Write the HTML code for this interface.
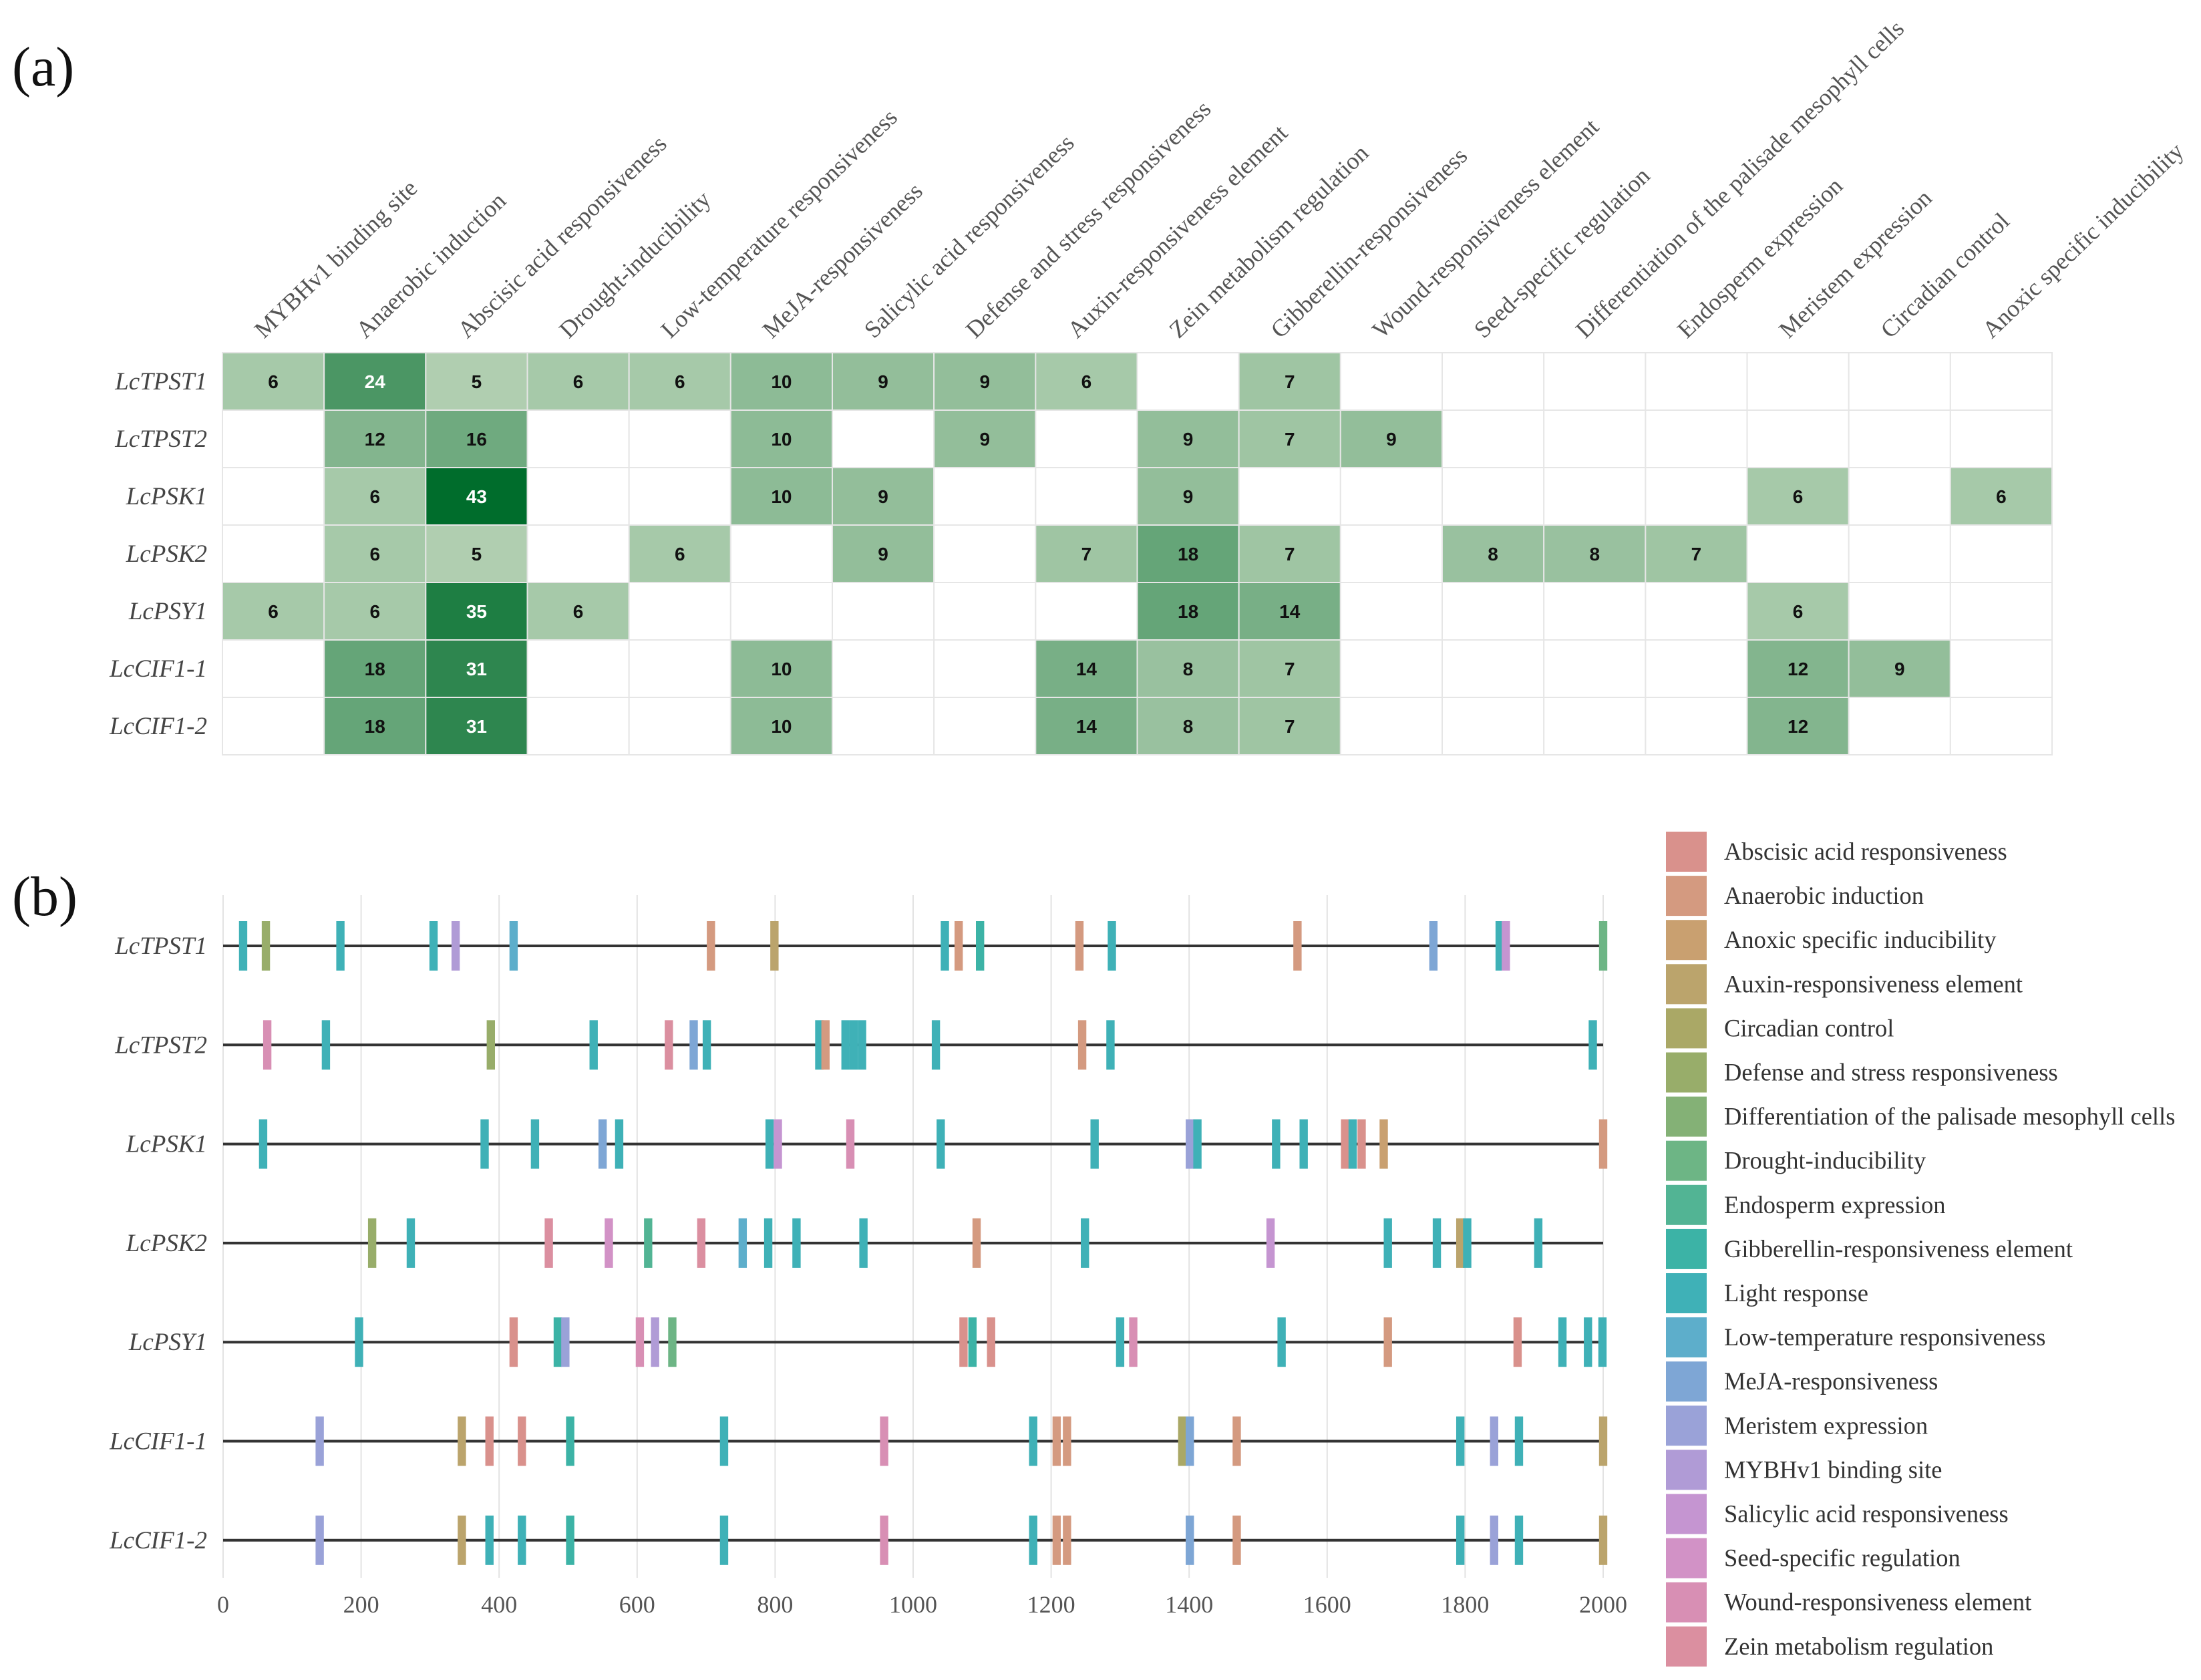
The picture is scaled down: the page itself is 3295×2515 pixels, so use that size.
<!DOCTYPE html>
<html><head><meta charset="utf-8">
<style>
html,body{margin:0;padding:0;background:#fff;}
svg{display:block;}
</style></head>
<body>
<svg id="fig" width="3295" height="2515" viewBox="0 0 3295 2515" xmlns="http://www.w3.org/2000/svg">
<rect width="3295" height="2515" fill="#fff"/>
<text x="18" y="128" font-family="Liberation Serif, serif" font-size="84" fill="#111">(a)</text>
<text x="18" y="1370" font-family="Liberation Serif, serif" font-size="84" fill="#111">(b)</text>
<g id="heat"></g>
<g id="track"></g>
<g id="legend"></g>
</svg>
<script>
// ---------- heatmap data ----------
const genes = ["LcTPST1","LcTPST2","LcPSK1","LcPSK2","LcPSY1","LcCIF1-1","LcCIF1-2"];
const heatCols = ["MYBHv1 binding site","Anaerobic induction","Abscisic acid responsiveness","Drought-inducibility","Low-temperature responsiveness","MeJA-responsiveness","Salicylic acid responsiveness","Defense and stress responsiveness","Auxin-responsiveness element","Zein metabolism regulation","Gibberellin-responsiveness","Wound-responsiveness element","Seed-specific regulation","Differentiation of the palisade mesophyll cells","Endosperm expression","Meristem expression","Circadian control","Anoxic specific inducibility"];
const rowTPST1 = [6,24,5,6,6,10,9,9,6,0,7,0,0,0,0,0,0,0];
const rowTPST2 = [0,12,16,0,0,10,0,9,0,9,7,9,0,0,0,0,0,0];
const rowPSK1  = [0,6,43,0,0,10,9,0,0,9,0,0,0,0,0,6,0,6];
const rowPSK2  = [0,6,5,0,6,0,9,0,7,18,7,0,8,8,7,0,0,0];
const rowPSY1  = [6,6,35,6,0,0,0,0,0,18,14,0,0,0,0,6,0,0];
const rowCIF11 = [0,18,31,0,0,10,0,0,14,8,7,0,0,0,0,12,9,0];
const rowCIF12 = [0,18,31,0,0,10,0,0,14,8,7,0,0,0,0,12,0,0];
const heatRows = [rowTPST1,rowTPST2,rowPSK1,rowPSK2,rowPSY1,rowCIF11,rowCIF12];

// ---------- track data ----------
const categories = ["Abscisic acid responsiveness","Anaerobic induction","Anoxic specific inducibility","Auxin-responsiveness element","Circadian control","Defense and stress responsiveness","Differentiation of the palisade mesophyll cells","Drought-inducibility","Endosperm expression","Gibberellin-responsiveness element","Light response","Low-temperature responsiveness","MeJA-responsiveness","Meristem expression","MYBHv1 binding site","Salicylic acid responsiveness","Seed-specific regulation","Wound-responsiveness element","Zein metabolism regulation"];
const catColors = ["#d9918c","#d49a80","#c9a070","#bba46c","#aaa866","#98ad6a","#84b176","#6db585","#52b494","#3cb3a6","#3fb1b7","#5daecb","#7ea6d5","#9aa2d8","#b09bd6","#c595d1","#d292c6","#d88fb4","#db8fa0"];
const xTicks = [0,200,400,600,800,1000,1200,1400,1600,1800,2000];
const posTPST1 = [29,62,170,305,337,421,707,799,1046,1066,1097,1241,1288,1557,1754,1850,1859,2000];
const catTPST1 = ["Light response","Defense and stress responsiveness","Light response","Light response","MYBHv1 binding site","Low-temperature responsiveness","Anaerobic induction","Auxin-responsiveness element","Light response","Anaerobic induction","Gibberellin-responsiveness element","Anaerobic induction","Light response","Anaerobic induction","MeJA-responsiveness","Light response","Salicylic acid responsiveness","Drought-inducibility"];
const posTPST2 = [64,149,388,537,646,682,701,864,873,902,914,926,1033,1245,1286,1985];
const catTPST2 = ["Wound-responsiveness element","Light response","Defense and stress responsiveness","Light response","Zein metabolism regulation","MeJA-responsiveness","Light response","Light response","Anaerobic induction","Light response","Light response","Light response","Light response","Anaerobic induction","Light response","Light response"];
const posPSK1 = [58,379,452,550,574,792,804,909,1040,1263,1401,1412,1526,1566,1626,1637,1650,1682,2000];
const catPSK1 = ["Light response","Light response","Light response","MeJA-responsiveness","Light response","Light response","Salicylic acid responsiveness","Wound-responsiveness element","Light response","Light response","Meristem expression","Light response","Light response","Light response","Abscisic acid responsiveness","Light response","Abscisic acid responsiveness","Anoxic specific inducibility","Anaerobic induction"];
const posPSK2 = [216,272,472,559,616,693,753,790,831,928,1092,1249,1518,1688,1759,1793,1803,1906];
const catPSK2 = ["Defense and stress responsiveness","Light response","Zein metabolism regulation","Seed-specific regulation","Endosperm expression","Zein metabolism regulation","Low-temperature responsiveness","Light response","Light response","Light response","Anaerobic induction","Light response","Salicylic acid responsiveness","Light response","Light response","Auxin-responsiveness element","Light response","Light response"];
const posPSY1 = [197,421,485,496,604,626,651,1073,1086,1113,1300,1319,1534,1688,1876,1941,1978,1999];
const catPSY1 = ["Light response","Abscisic acid responsiveness","Gibberellin-responsiveness element","Meristem expression","Wound-responsiveness element","MYBHv1 binding site","Drought-inducibility","Abscisic acid responsiveness","Gibberellin-responsiveness element","Abscisic acid responsiveness","Light response","Wound-responsiveness element","Light response","Anaerobic induction","Abscisic acid responsiveness","Light response","Light response","Light response"];
const posCIF11 = [140,346,386,433,503,726,958,1174,1208,1223,1390,1401,1469,1793,1842,1878,2000];
const catCIF11 = ["Meristem expression","Auxin-responsiveness element","Abscisic acid responsiveness","Abscisic acid responsiveness","Gibberellin-responsiveness element","Light response","Wound-responsiveness element","Light response","Anaerobic induction","Anaerobic induction","Circadian control","MeJA-responsiveness","Anaerobic induction","Light response","Meristem expression","Light response","Auxin-responsiveness element"];
const posCIF12 = [140,346,386,433,503,726,958,1174,1208,1223,1401,1469,1793,1842,1878,2000];
const catCIF12 = ["Meristem expression","Auxin-responsiveness element","Light response","Light response","Gibberellin-responsiveness element","Light response","Wound-responsiveness element","Light response","Anaerobic induction","Anaerobic induction","MeJA-responsiveness","Anaerobic induction","Light response","Meristem expression","Light response","Auxin-responsiveness element"];
const trackPos = [posTPST1,posTPST2,posPSK1,posPSK2,posPSY1,posCIF11,posCIF12];
const trackCat = [catTPST1,catTPST2,catPSK1,catPSK2,catPSY1,catCIF11,catCIF12];

const NS = "http://www.w3.org/2000/svg";
function mk(tag, attrs, parent){const e=document.createElementNS(NS,tag);for(const k in attrs)e.setAttribute(k,attrs[k]);parent.appendChild(e);return e;}

// ---------- heatmap ----------
const heat = document.getElementById('heat');
const hx0=333, hy0=528, cw=(3072-333)/heatCols.length, ch=(1130-528)/genes.length;
const vmin=5, vmax=43;
function lerp(a,b,t){return Math.round(a+(b-a)*t);}
function heatColor(v){
  let t=Math.max(0,Math.min(1,(v-vmin)/(vmax-vmin)));
  t=Math.pow(t,0.8);
  const a=[176,206,176], b=[0,109,44];
  return `rgb(${lerp(a[0],b[0],t)},${lerp(a[1],b[1],t)},${lerp(a[2],b[2],t)})`;
}
heatCols.forEach((c,j)=>{
  const cx=hx0+cw*j+cw/2-14, cy=508;
  const t=mk('text',{x:cx,y:cy,transform:`rotate(-44 ${cx} ${cy})`,'font-family':'Liberation Serif, serif','font-size':36,fill:'#555'},heat);
  t.textContent=c;
  
  
});
genes.forEach((g,i)=>{
  const t=mk('text',{x:310,y:hy0+ch*i+ch/2+12,'text-anchor':'end','font-family':'Liberation Serif, serif','font-size':37,'font-style':'italic',fill:'#444'},heat);
  t.textContent=g;
  
  
  heatRows[i].forEach((v,j)=>{
    const r=mk('rect',{x:hx0+cw*j,y:hy0+ch*i,width:cw,height:ch,fill:v>0?heatColor(v):'#fff',stroke:'#e6e6e6','stroke-width':2},heat);
    
    
    if(v>0){
      const tx=mk('text',{x:hx0+cw*j+cw/2,y:hy0+ch*i+ch/2+10,'text-anchor':'middle','font-family':'Liberation Sans, sans-serif','font-size':28,'font-weight':'bold',fill:v>=24?'#fff':'#111'},heat);
      tx.textContent=v;
      
      
    }
  });
});

// ---------- tracks ----------
const track=document.getElementById('track');
const px0=334, px1=2400, dmax=2000;
function xs(v){return px0+(px1-px0)*v/dmax;}
const ty0=1416, tdy=148.3, markH=74, markW=12;
xTicks.forEach(v=>{
  const l=mk('line',{x1:xs(v),x2:xs(v),y1:1340,y2:2362,stroke:'#e3e3e3','stroke-width':2},track);
  
  
  const t=mk('text',{x:xs(v),y:2414,'text-anchor':'middle','font-family':'Liberation Serif, serif','font-size':36,fill:'#555'},track);
  t.textContent=v;
  
  
});
genes.forEach((g,i)=>{
  const y=ty0+tdy*i;
  const t=mk('text',{x:310,y:y+12,'text-anchor':'end','font-family':'Liberation Serif, serif','font-size':37,'font-style':'italic',fill:'#444'},track);
  t.textContent=g;
  
  
  const ln=mk('line',{x1:xs(0),x2:xs(dmax),y1:y,y2:y,stroke:'#333','stroke-width':4},track);
  
  
  trackPos[i].forEach((p,k)=>{
    const ci=categories.indexOf(trackCat[i][k]);
    const r=mk('rect',{x:xs(p)-markW/2*(px1-px0)/dmax,y:y-markH/2,width:markW*(px1-px0)/dmax,height:markH,fill:catColors[ci]},track);
    
    
  });
});

// ---------- legend ----------
const leg=document.getElementById('legend');
categories.forEach((c,i)=>{
  const y=1245+66.1*i;
  const r=mk('rect',{x:2494,y:y,width:61,height:60,fill:catColors[i]},leg);
  
  
  const t=mk('text',{x:2581,y:y+42,'font-family':'Liberation Serif, serif','font-size':36.5,fill:'#333'},leg);
  t.textContent=c;
  
  
});
</script>
</body></html>
